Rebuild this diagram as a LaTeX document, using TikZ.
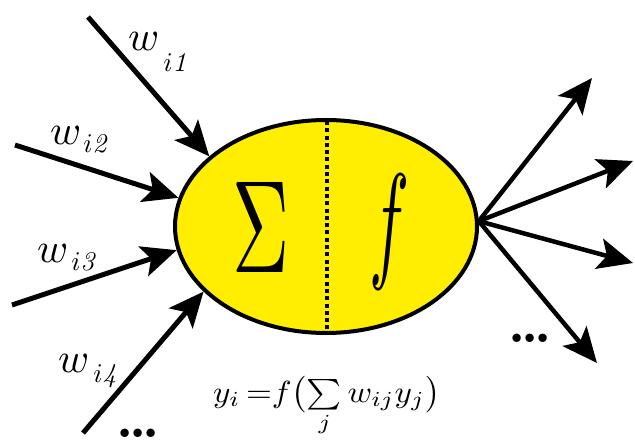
\documentclass[tikz,border=0pt]{standalone}
\usetikzlibrary{arrows.meta,shapes.geometric}
\definecolor{elfill}{RGB}{255,238,0}
\newcommand\wlab[3]{\scalebox{4.2}{$w$}\kern#1\raisebox{-#2}{\scalebox{2.7}{$i\mathit{#3}$}}}
\newcommand\threedots{\scalebox{5.4}{\bfseries .\kern-0.73pt.\kern-0.73pt.}}
\begin{document}
\begin{tikzpicture}[x=1pt,y=-1pt,
  inarrow/.style={line width=5pt,-{Stealth[length=35pt,width=31pt,inset=8pt]}},
  outarrow/.style={line width=4.5pt,-{Stealth[length=35pt,width=31pt,inset=8pt]}},
  lab/.style={anchor=base west,inner sep=0pt},
  dotsnode/.style={anchor=base,inner sep=0pt}]
\useasboundingbox (0,0) rectangle (635,441);
% neuron body
\node[ellipse,draw,line width=4pt,fill=elfill,minimum width=302pt,minimum height=213pt,inner sep=0pt] (e) at (326,226.5) {};
\coordinate (dtop) at (327,121);
\coordinate (dbot) at (327,332);
\draw[line width=4pt,dash pattern=on 4pt off 3.3pt] (dtop) -- (dbot);
\node[inner sep=0pt] (sig) at (261.5,227) {\resizebox{57pt}{90pt}{$\Sigma$}};
\node[inner sep=0pt] (fn) at (390,232) {\resizebox{40pt}{90pt}{$f$}};
% inputs
\coordinate (i1) at (88,17);
\coordinate (i2) at (15,145);
\coordinate (i3) at (12,305);
\coordinate (i4) at (83,433);
\draw[inarrow] (i1) -- (e.149.4);
\draw[inarrow] (i2) -- (e.169.2);
\draw[inarrow] (i3) -- (e.189.5);
\draw[inarrow] (i4) -- (e.208.5);
% outputs
\coordinate (o1) at (592,78);
\coordinate (o2) at (633,161);
\coordinate (o3) at (633,263);
\coordinate (o4) at (597,363);
\draw[outarrow] (e.2) -- (o1);
\draw[outarrow] (e.2) -- (o2);
\draw[outarrow] (e.2) -- (o3);
\draw[outarrow] (e.2) -- (o4);
% labels
\node[lab] (w1) at (128,51) {\wlab{4pt}{21pt}{1}};
\node[lab] (w2) at (50,145) {\wlab{2pt}{8pt}{2}};
\node[lab] (w3) at (37,262) {\wlab{3pt}{8pt}{3}};
\node[lab] (w4) at (58,372) {\wlab{4pt}{10pt}{4}};
\node[dotsnode] (dl) at (138,437) {\threedots};
\node[dotsnode] (dr) at (530,342) {\threedots};
\node[anchor=north west,inner sep=0pt] (form) at (213,376) {\resizebox*{227pt}{60pt}{$y_i\,{=}f\bigl(\sum\limits_j w_{ij} y_j\bigr)$}};
\end{tikzpicture}
\end{document}
